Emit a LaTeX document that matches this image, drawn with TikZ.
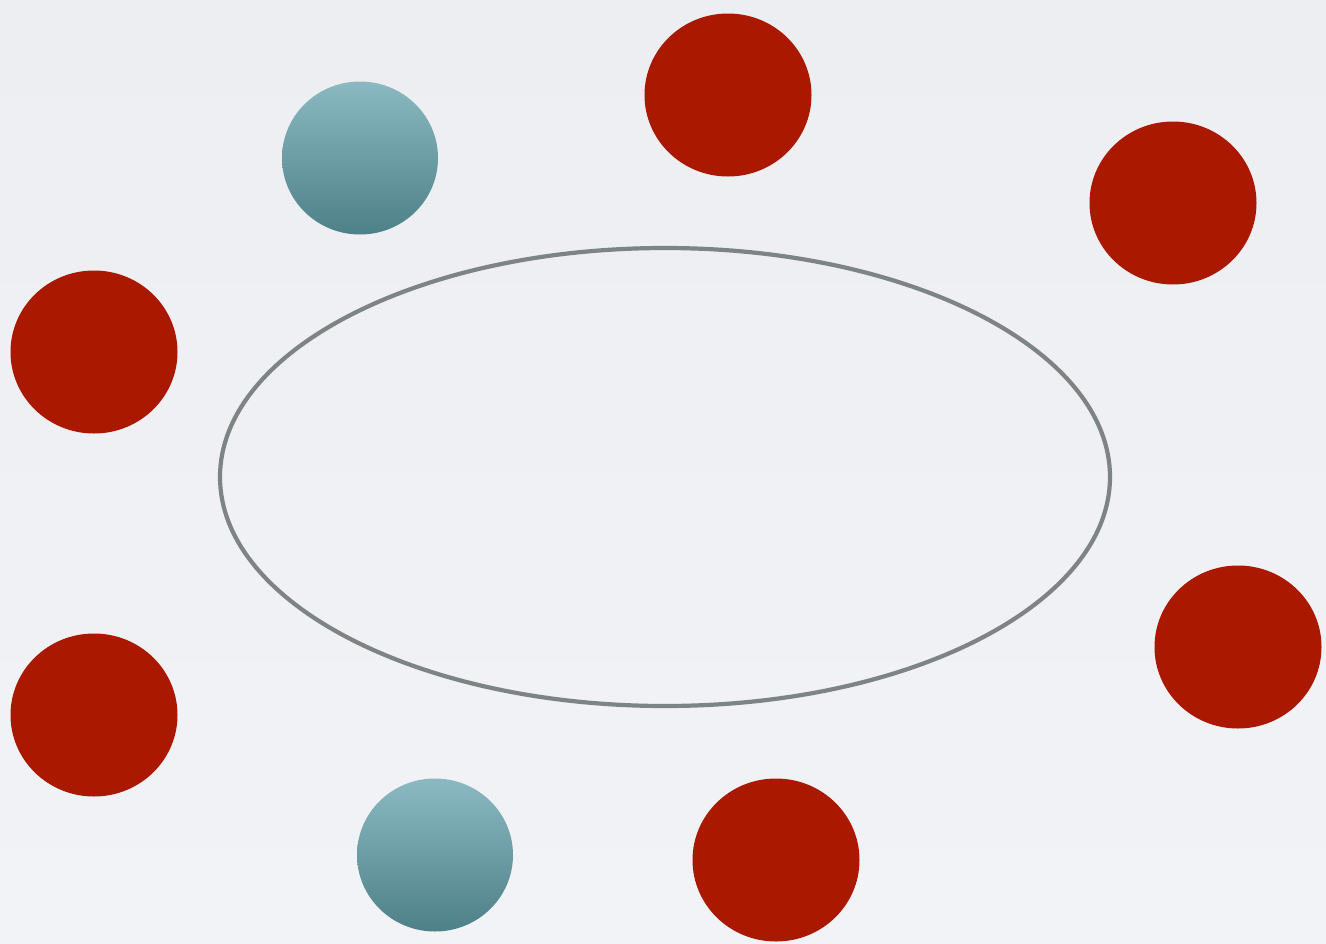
\documentclass[tikz,border=0pt]{standalone}
\usetikzlibrary{shapes.geometric}
\definecolor{bgtop}{HTML}{ECEEF1}
\definecolor{bgbot}{HTML}{F2F3F6}
\definecolor{redball}{HTML}{AA1800}
\definecolor{tealtop}{HTML}{8AB9C1}
\definecolor{tealbot}{HTML}{4E8088}
\definecolor{ringgray}{HTML}{7E8483}
\tikzset{
  redbubble/.style={ellipse, inner sep=0pt, minimum width=167pt, minimum height=163pt, fill=redball, draw=none},
  tealbubble/.style={ellipse, inner sep=0pt, minimum width=156pt, minimum height=153pt, top color=tealtop, bottom color=tealbot, draw=none},
  ring/.style={ellipse, inner sep=0pt, minimum width=890pt, minimum height=458pt, draw=ringgray, line width=4.2pt}
}
\begin{document}
\begin{tikzpicture}[x=1pt,y=-1pt]
\shade[top color=bgtop, bottom color=bgbot] (0,0) rectangle (1326,943);
\useasboundingbox (0,0) rectangle (1326,943);
\node[ring] (ring) at (665,477) {};
\node[redbubble] (r1) at (728,95) {};
\node[redbubble] (r2) at (1173,203) {};
\node[redbubble] (r3) at (94,352) {};
\node[redbubble] (r4) at (1238,647) {};
\node[redbubble] (r5) at (94,715) {};
\node[redbubble] (r6) at (776,860) {};
\node[tealbubble] (t1) at (360,158) {};
\node[tealbubble] (t2) at (435,855) {};
\end{tikzpicture}
\end{document}
